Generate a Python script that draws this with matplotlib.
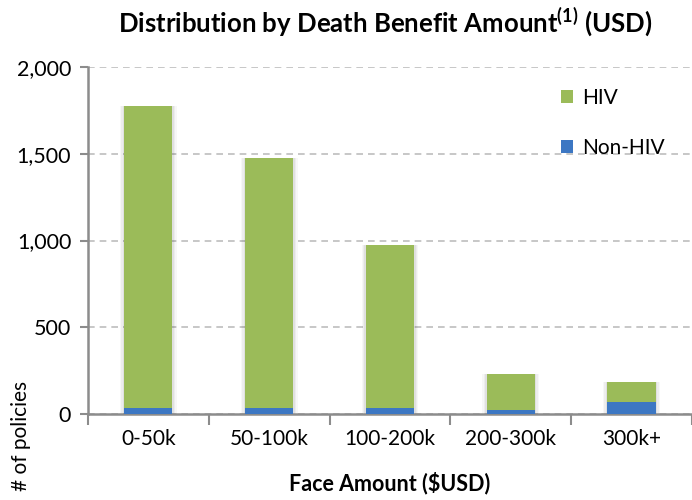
import matplotlib
matplotlib.use("Agg")
import matplotlib.pyplot as plt
import numpy as np

plt.rcParams['font.family'] = ['Lato', 'DejaVu Sans']
plt.rcParams['mathtext.fontset'] = 'custom'
plt.rcParams['mathtext.rm'] = 'Lato'
plt.rcParams['mathtext.bf'] = 'Lato:bold'

# ---------- data ----------
categories = ["0-50k", "50-100k", "100-200k", "200-300k", "300k+"]
non_hiv = [35, 37, 37, 23, 67]
hiv = [1740, 1438, 938, 207, 118]
y_ticks = [0, 500, 1000, 1500, 2000]
y_tick_labels = ["0", "500", "1,000", "1,500", "2,000"]

GREEN = "#9BBB59"
BLUE = "#3C77C3"
AXIS_GREY = "#8C8C8C"

fig = plt.figure(figsize=(6.92, 5.0), dpi=100)
ax = fig.add_axes([0.127, 0.172, 0.873, 0.694])

x = np.arange(len(categories))
width = 0.4
totals = np.array(non_hiv) + np.array(hiv)

# soft shadow behind each stack
for dx, alpha in [(0.035, 0.03), (0.025, 0.04), (0.012, 0.05)]:
    ax.bar(x, totals, width=width + 2 * dx, color="black", alpha=alpha,
           linewidth=0, zorder=2)

ax.bar(x, non_hiv, width=width, color=BLUE, label="Non-HIV", zorder=3,
       linewidth=0)
ax.bar(x, hiv, width=width, bottom=non_hiv, color=GREEN, label="HIV",
       zorder=3, linewidth=0)

ax.set_xlim(-0.5, 4.5)
ax.set_ylim(0, 2000)
ax.set_yticks(y_ticks)
ax.set_yticklabels(y_tick_labels, fontsize=15.5)
ax.set_xticks(x)
ax.set_xticklabels(categories, fontsize=15)
ax.set_xticks(np.arange(-0.5, 5.0, 1.0), minor=True)
ax.tick_params(axis='x', which='major', length=0, pad=11)
ax.tick_params(axis='x', which='minor', length=8, width=1.5, color=AXIS_GREY)
ax.tick_params(axis='y', length=6, width=1.5, color=AXIS_GREY, pad=6)

for side in ["top", "right"]:
    ax.spines[side].set_visible(False)
for side in ["left", "bottom"]:
    ax.spines[side].set_color(AXIS_GREY)
    ax.spines[side].set_linewidth(1.8)

ax.yaxis.grid(True, linestyle=(0, (4, 3)), color="#BDBDBD", linewidth=1.2)
ax.set_axisbelow(True)

handles, labels = ax.get_legend_handles_labels()
leg = ax.legend(handles[::-1], labels[::-1], loc="upper left",
                bbox_to_anchor=(0.783, 0.94), frameon=False, fontsize=15,
                handlelength=0.6, handleheight=0.6, handletextpad=0.4,
                labelspacing=1.45, borderpad=0, borderaxespad=0)

fig.text(0.556, 0.955, r"Distribution by Death Benefit Amount$^{\mathbf{(1)}}$ (USD)",
         ha="center", va="center", fontsize=18.5, fontweight="bold")
fig.text(0.563, 0.034, "Face Amount ($USD)", ha="center", va="center",
         fontsize=15.5, fontweight="bold")
fig.text(0.03, 0.018, "# of policies", rotation=90, ha="center", va="bottom",
         fontsize=15)

fig.savefig("out.png", dpi=100)
